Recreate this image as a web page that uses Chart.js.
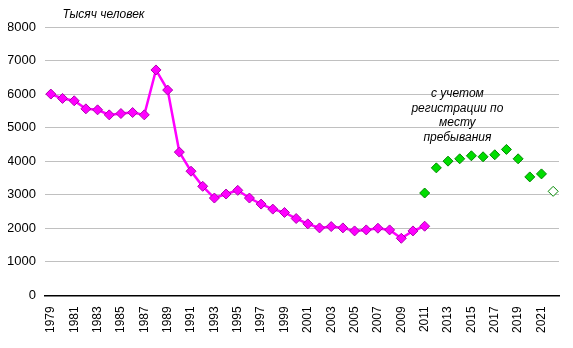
<!DOCTYPE html>
<html>
<head>
<meta charset="utf-8">
<script src="https://cdn.jsdelivr.net/npm/chart.js@4/dist/chart.umd.min.js"></script>
<style>
  html, body { margin: 0; padding: 0; background: #fff; }
  #wrap { width: 573px; height: 348px; }
</style>
</head>
<body>
<div id="wrap"><canvas id="chart"></canvas></div>
<script>
// годы 1979-2022
const years = [];
for (let y = 1979; y <= 2022; y++) years.push(String(y));

// численность, тыс. человек (по месту жительства)
const residence = [
  6000, 5870, 5800, 5560, 5530, 5380, 5420, 5450, 5380, 6720,
  6120, 4270, 3700, 3250, 2900, 3020, 3130, 2900, 2720, 2570,
  2470, 2290, 2130, 2010, 2050, 2010, 1920, 1950, 2000, 1950,
  1700, 1920, 2060,
  null, null, null, null, null, null, null, null, null, null, null
];

// с учетом регистрации по месту пребывания (2011-2022)
const withTemporary = [
  3050, 3800, 4000, 4070, 4160, 4130, 4190, 4350, 4070, 3530, 3620, 3100
];
const temporarySeries = years.map((y, i) => i < 32 ? null : withTemporary[i - 32]);

const yTicks = [0, 1000, 2000, 3000, 4000, 5000, 6000, 7000, 8000];
const noteLines = ['с учетом', 'регистрации по', 'месту', 'пребывания'];
const unitLabel = 'Тысяч человек';

const fontFamily = '"Liberation Sans", Arial, sans-serif';

// подписи: единицы измерения и пояснение к зелёным точкам
const textPlugin = {
  id: 'textNotes',
  afterDraw(chart) {
    const ctx = chart.ctx;
    const xs = chart.scales.x;
    const ys = chart.scales.y;
    ctx.save();
    ctx.fillStyle = '#000';
    ctx.font = 'italic 12px ' + fontFamily;
    ctx.textBaseline = 'middle';
    ctx.textAlign = 'left';
    ctx.fillText(unitLabel, xs.getPixelForValue(1), ys.getPixelForValue(8000) - 12);

    ctx.textAlign = 'center';
    const cx = xs.getPixelForValue(34.8);
    let cy = ys.getPixelForValue(6000);
    noteLines.forEach(line => {
      ctx.fillText(line, cx, cy);
      cy += 14.5;
    });
    ctx.restore();
  }
};

const greenFill = temporarySeries.map((v, i) => i === years.length - 1 ? '#ffffff' : '#00dd00');

new Chart(document.getElementById('chart'), {
  type: 'line',
  data: {
    labels: years,
    datasets: [
      {
        data: residence,
        borderColor: '#ff00ff',
        borderWidth: 2.5,
        pointStyle: 'rectRot',
        pointRadius: 5,
        pointBackgroundColor: '#ff00ff',
        pointBorderColor: '#b000b0',
        pointBorderWidth: 1,
        tension: 0,
        spanGaps: false
      },
      {
        data: temporarySeries,
        showLine: false,
        pointStyle: 'rectRot',
        pointRadius: 5,
        pointBackgroundColor: greenFill,
        pointBorderColor: '#008800',
        pointBorderWidth: 1
      }
    ]
  },
  options: {
    responsive: true,
    maintainAspectRatio: false,
    animation: false,
    layout: { padding: { top: 27, right: 14, bottom: 12, left: 8 } },
    plugins: {
      legend: { display: false },
      tooltip: { enabled: false }
    },
    scales: {
      x: {
        offset: true,
        grid: { display: false },
        border: { display: true, color: '#000', width: 1.5 },
        afterFit: axis => { axis.paddingLeft = 0; },
        ticks: {
          autoSkip: false,
          maxRotation: 90,
          minRotation: 90,
          color: '#000',
          padding: 3,
          font: { family: fontFamily, size: 12 },
          callback: (v, i) => i % 2 === 0 ? years[i] : ''
        }
      },
      y: {
        min: 0,
        max: 8000,
        afterBuildTicks: axis => { axis.ticks = yTicks.map(v => ({ value: v })); },
        afterFit: axis => { axis.width = 37; },
        grid: { color: '#c0c0c0', lineWidth: 1, drawTicks: false },
        border: { display: false },
        ticks: {
          color: '#000',
          padding: 9,
          font: { family: fontFamily, size: 13 },
          callback: v => String(v)
        }
      }
    }
  },
  plugins: [textPlugin]
});
</script>
</body>
</html>
